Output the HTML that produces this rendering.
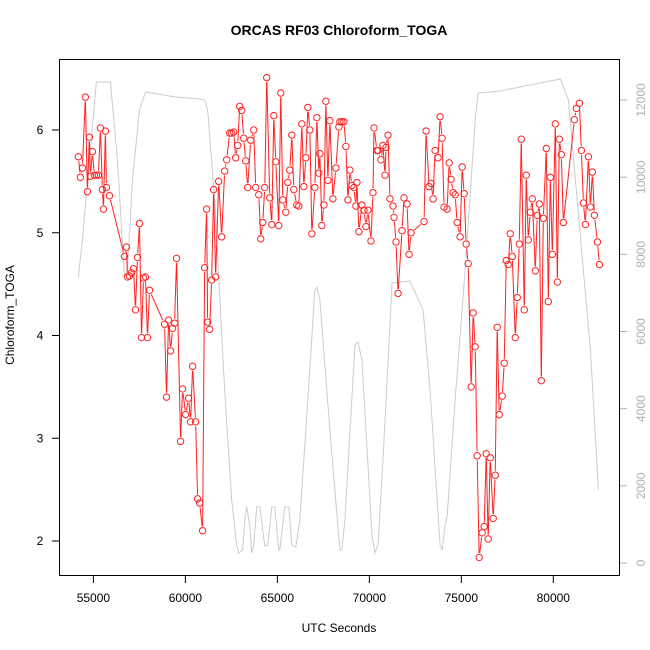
<!DOCTYPE html>
<html><head><meta charset="utf-8"><style>
body{margin:0;background:#fff;}
svg{display:block;font-family:"Liberation Sans",sans-serif;}
</style></head><body>
<div style="position:relative;width:650px;height:650px">
<svg id="chart" width="650" height="650" style="position:absolute;left:0;top:0">
<text x="339" y="35" text-anchor="middle" font-size="14" font-weight="bold">ORCAS RF03 Chloroform_TOGA</text>
<text x="339" y="632" text-anchor="middle" font-size="12">UTC Seconds</text>
<text x="0" y="0" transform="translate(14,315) rotate(-90)" text-anchor="middle" font-size="12">Chloroform_TOGA</text>
</svg>
</div>
<script>
const grayX=[54183,54401,54782,55163,55327,55926,56307,56689,56852,57124,57506,57832,59466,60774,61046,61210,61591,62136,62517,62789,62898,63116,63225,63334,63497,63606,63715,63879,64042,64205,64314,64478,64696,64859,65077,65131,65404,65622,65785,66003,66221,66657,67038,67147,67310,67855,68400,68509,68672,69217,69380,69598,70143,70306,70469,70742,71232,72212,72920,73302,73846,73955,74119,74228,74664,75208,75753,75917,77115,80383,80819,82017,82453];
const grayV=[7413,8372,10445,12467,12467,12467,10445,7439,7594,9928,11742,12208,12078,12026,12000,11742,9409,4484,1633,466,259,337,1115,1452,985,259,466,1452,1452,855,441,466,1452,1452,337,337,1452,1452,466,415,1115,4225,7077,7154,6817,3447,337,337,1115,5650,5728,5261,726,259,466,2669,7258,7310,6558,4484,466,337,985,1193,4225,7594,11483,12182,12234,12545,12000,5521,1892];
const redX=[54183,54292,54401,54564,54673,54782,54837,54946,55054,55163,55272,55381,55490,55545,55654,55708,55872,56689,56798,56852,56961,57070,57179,57288,57397,57506,57615,57724,57832,57941,58050,58867,58976,59085,59194,59303,59412,59521,59739,59848,60011,60175,60284,60393,60556,60665,60774,60937,61046,61155,61210,61319,61427,61536,61645,61809,61972,62136,62245,62408,62517,62626,62735,62844,62953,63062,63171,63279,63388,63552,63715,63824,63988,64096,64205,64314,64423,64587,64696,64805,64914,65077,65186,65295,65458,65567,65676,65785,65894,66057,66166,66330,66439,66548,66657,66766,66875,67038,67147,67256,67310,67419,67528,67637,67746,67855,68018,68182,68345,68400,68509,68618,68727,68835,68944,69053,69162,69271,69326,69435,69598,69707,69816,69925,70088,70197,70252,70415,70469,70633,70742,70851,70905,71014,71123,71287,71341,71450,71559,71777,71886,72049,72158,72267,72975,73084,73247,73356,73465,73574,73738,73846,73955,74064,74228,74337,74446,74555,74664,74773,74936,75045,75154,75263,75372,75535,75644,75753,75862,75971,76134,76243,76352,76461,76570,76733,76842,76951,77060,77224,77333,77442,77551,77660,77769,77932,78041,78150,78259,78422,78531,78640,78749,78858,79021,79130,79239,79348,79457,79620,79729,79838,79947,80110,80219,80328,80437,80546,81146,81255,81418,81527,81636,81745,81908,82017,82126,82235,82399,82508];
const redY=[5.74,5.54,5.63,6.32,5.40,5.93,5.55,5.79,5.56,5.56,5.56,6.02,5.42,5.23,5.99,5.44,5.36,4.77,4.86,4.57,4.58,4.61,4.65,4.25,4.76,5.09,3.98,4.56,4.57,3.98,4.44,4.11,3.40,4.15,3.85,4.07,4.12,4.75,2.97,3.48,3.23,3.39,3.16,3.70,3.16,2.41,2.37,2.10,4.66,5.23,4.13,4.06,4.54,5.42,4.57,5.50,4.96,5.60,5.71,5.97,5.97,5.98,5.73,5.85,6.23,6.19,5.92,5.70,5.44,5.90,6.00,5.44,5.37,4.94,5.10,5.44,6.51,5.34,5.08,6.14,5.69,5.07,6.36,5.32,5.20,5.49,5.61,5.95,5.42,5.27,5.26,6.06,5.45,5.73,6.22,6.00,4.99,5.44,6.12,5.58,5.77,5.07,5.27,6.28,5.51,6.09,5.33,5.63,6.03,6.08,6.08,6.08,5.84,5.32,5.61,5.46,5.44,5.26,5.49,5.01,5.27,5.22,5.06,5.22,4.92,5.39,6.02,5.80,5.80,5.71,5.85,5.56,5.83,5.95,5.33,5.26,5.15,4.91,4.41,5.02,5.34,5.28,4.79,5.00,5.11,5.99,5.45,5.48,5.33,5.80,5.73,6.13,5.92,5.25,5.23,5.68,5.52,5.39,5.37,5.10,4.96,5.64,5.38,4.89,4.70,3.50,4.22,3.89,2.83,1.84,2.08,2.14,2.85,2.02,2.81,2.22,2.64,4.08,3.23,3.41,3.73,4.73,4.69,4.99,4.77,3.98,4.37,4.89,5.91,4.25,5.56,4.93,5.20,5.33,4.63,5.17,5.28,3.56,5.14,5.82,4.33,5.54,4.79,6.06,4.52,5.91,5.76,5.10,6.10,6.21,6.26,5.80,5.29,5.08,5.74,5.25,5.59,5.17,4.91,4.69];
const xTicks=[55000,60000,65000,70000,75000,80000];
const yTicks=[2,3,4,5,6];
const rTicks=[0,2000,4000,6000,8000,10000,12000];

const NS="http://www.w3.org/2000/svg";
const svg=document.getElementById('chart');
const sx=v=>93.4+(v-55000)*(459.9/25000);
const sy=v=>541-(v-2)*(411/4);
const sr=v=>563-v*(463/12000);
function mk(tag,attrs){const e=document.createElementNS(NS,tag);for(const k in attrs)e.setAttribute(k,attrs[k]);svg.appendChild(e);return e;}

const gp=mk('polyline',{points:grayX.map((x,i)=>sx(x)+','+sr(grayV[i])).join(' '),fill:'none',stroke:'#cccccc','stroke-width':1});



const R=3.2;
for(let i=0;i<redX.length-1;i++){
  const x1=sx(redX[i]),y1=sy(redY[i]),x2=sx(redX[i+1]),y2=sy(redY[i+1]);
  const d=Math.hypot(x2-x1,y2-y1),g=R+1.2;
  if(d<=2*g)continue;
  const ux=(x2-x1)/d,uy=(y2-y1)/d;
  const s=mk('line',{x1:x1+ux*g,y1:y1+uy*g,x2:x2-ux*g,y2:y2-uy*g,stroke:'#ff2020','stroke-width':1});
  
  
}
redX.forEach((x,i)=>{
  const c=mk('circle',{cx:sx(x),cy:sy(redY[i]),r:R,fill:'none',stroke:'#ff2020','stroke-width':1});
  
  
});
const box=mk('rect',{x:59.5,y:59.5,width:560,height:516,fill:'none',stroke:'#000','stroke-width':1});


xTicks.forEach(t=>{
  const x=sx(t);
  mk('line',{x1:x,x2:x,y1:576,y2:583,stroke:'#000'});
  const tx=mk('text',{x:x,y:602,'text-anchor':'middle','font-size':12});
  tx.textContent=t;
  
  
});
yTicks.forEach(t=>{
  const y=sy(t);
  mk('line',{x1:52,x2:59.5,y1:y,y2:y,stroke:'#000'});
  const tx=mk('text',{x:40,y:y+4,'text-anchor':'middle','font-size':12});
  tx.textContent=t;
  
  
});
rTicks.forEach(t=>{
  const y=sr(t);
  mk('line',{x1:620,x2:627,y1:y,y2:y,stroke:'#b0b0b0'});
  const tx=mk('text',{x:0,y:0,transform:'translate(645,'+y+') rotate(-90)','text-anchor':'middle','font-size':12,fill:'#b0b0b0'});
  tx.textContent=t;
  
  
});
</script>
</body></html>
